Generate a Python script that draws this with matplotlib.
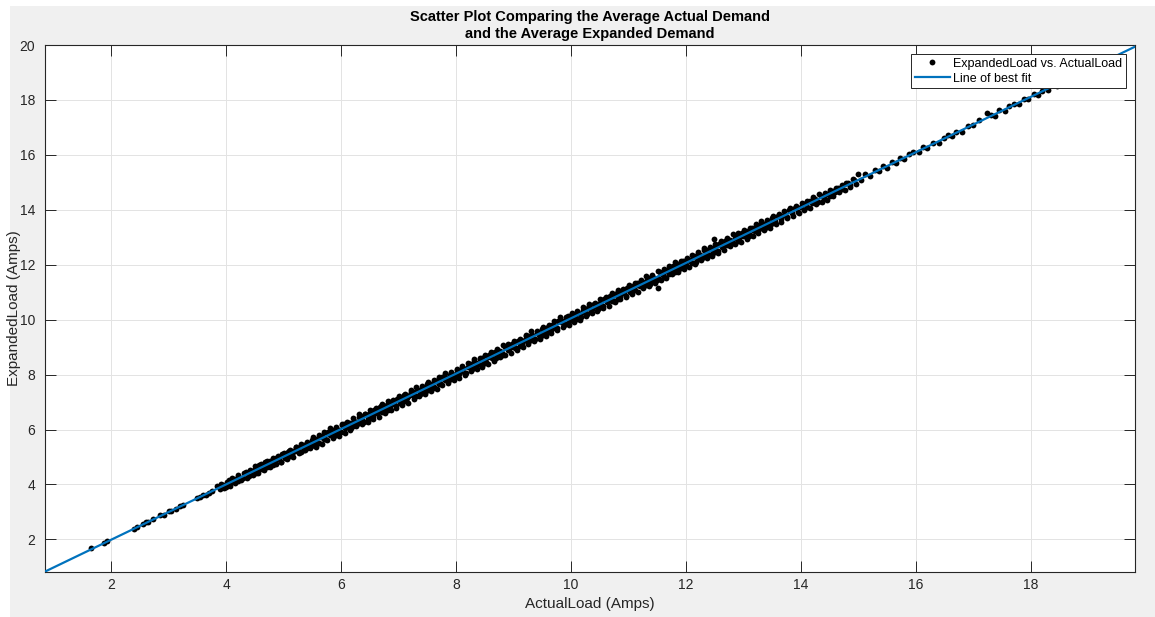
import matplotlib
matplotlib.use("Agg")
import matplotlib.pyplot as plt
from matplotlib.patches import Rectangle

plt.rcParams['font.family'] = ['Liberation Sans', 'DejaVu Sans']

# ---- data ----
low_x = [1.65, 1.88, 1.92, 2.40, 2.45, 2.55, 2.60, 2.65, 2.72, 2.85, 2.92, 3.00, 3.05,
         3.12, 3.20, 3.25, 3.50, 3.55, 3.60, 3.65, 3.70, 3.75]
low_y = [1.70, 1.88, 1.93, 2.38, 2.44, 2.55, 2.62, 2.64, 2.73, 2.88, 2.90, 3.02, 3.03,
         3.12, 3.22, 3.25, 3.52, 3.55, 3.62, 3.63, 3.70, 3.76]

dense_x = [
    3.85, 3.90, 3.95, 4.00, 4.05, 4.10, 4.15, 4.20, 4.25, 4.30,
    4.35, 4.40, 4.45, 4.50, 4.55, 4.60, 4.65, 4.70, 4.75, 4.80,
    4.85, 4.90, 4.95, 5.00, 5.05, 5.10, 5.15, 5.20, 5.25, 5.30,
    5.35, 5.40, 5.45, 5.50, 5.55, 5.60, 5.65, 5.70, 5.75, 5.80,
    5.85, 5.90, 5.95, 6.00, 6.05, 6.10, 6.15, 6.20, 6.25, 6.30,
    6.35, 6.40, 6.45, 6.50, 6.55, 6.60, 6.65, 6.70, 6.75, 6.80,
    6.85, 6.90, 6.95, 7.00, 7.05, 7.10, 7.15, 7.20, 7.25, 7.30,
    7.35, 7.40, 7.45, 7.50, 7.55, 7.60, 7.65, 7.70, 7.75, 7.80,
    7.85, 7.90, 7.95, 8.00, 8.05, 8.10, 8.15, 8.20, 8.25, 8.30,
    8.35, 8.40, 8.45, 8.50, 8.55, 8.60, 8.65, 8.70, 8.75, 8.80,
    8.85, 8.90, 8.95, 9.00, 9.05, 9.10, 9.15, 9.20, 9.25, 9.30,
    9.35, 9.40, 9.45, 9.50, 9.55, 9.60, 9.65, 9.70, 9.75, 9.80,
    9.85, 9.90, 9.95, 10.00, 10.05, 10.10, 10.15, 10.20, 10.25, 10.30,
    10.35, 10.40, 10.45, 10.50, 10.55, 10.60, 10.65, 10.70, 10.75, 10.80,
    10.85, 10.90, 10.95, 11.00, 11.05, 11.10, 11.15, 11.20, 11.25, 11.30,
    11.35, 11.40, 11.45, 11.50, 11.55, 11.60, 11.65, 11.70, 11.75, 11.80,
    11.85, 11.90, 11.95, 12.00, 12.05, 12.10, 12.15, 12.20, 12.25, 12.30,
    12.35, 12.40, 12.45, 12.50, 12.55, 12.60, 12.65, 12.70, 12.75, 12.80,
    12.85, 12.90, 12.95, 13.00, 13.05, 13.10, 13.15, 13.20, 13.25, 13.30,
    13.35, 13.40, 13.45, 13.50, 13.55, 13.60, 13.65, 13.70, 13.75, 13.80,
    13.85, 13.90, 13.95, 14.00, 14.05, 14.10, 14.15, 14.20, 14.25, 14.30,
    14.35, 14.40, 14.45, 14.50, 14.55, 14.60]
dense_y = [
    3.93, 3.84, 3.97, 3.90, 4.15, 4.08, 4.21, 4.11, 4.25, 4.25,
    4.44, 4.30, 4.49, 4.57, 4.48, 4.62, 4.62, 4.80, 4.67, 4.85,
    4.84, 4.97, 4.83, 5.04, 4.99, 5.22, 5.10, 5.21, 5.34, 5.19,
    5.42, 5.32, 5.49, 5.62, 5.53, 5.50, 5.74, 5.65, 5.88, 5.79,
    5.97, 5.84, 6.00, 5.90, 6.20, 6.10, 6.24, 6.11, 6.27, 6.26,
    6.48, 6.29, 6.52, 6.61, 6.48, 6.64, 6.63, 6.84, 6.67, 6.88,
    6.87, 7.01, 6.84, 7.07, 7.01, 7.26, 7.13, 7.24, 7.38, 7.21,
    7.44, 7.34, 7.51, 7.64, 7.55, 7.52, 7.76, 7.67, 7.90, 7.81,
    7.86, 8.00, 7.87, 8.03, 8.02, 8.24, 8.05, 8.28, 8.37, 8.24,
    8.41, 8.40, 8.61, 8.44, 8.65, 8.63, 8.77, 8.60, 8.83, 8.77,
    9.02, 8.89, 9.00, 9.14, 8.97, 9.20, 9.10, 9.27, 9.40, 9.31,
    9.29, 9.53, 9.44, 9.67, 9.58, 9.75, 9.62, 9.78, 9.68, 9.98,
    9.94, 9.85, 10.12, 10.00, 10.18, 10.02, 10.22, 10.36, 10.23, 10.41,
    10.31, 10.58, 10.47, 10.62, 10.48, 10.74, 10.69, 10.80, 10.69, 10.97,
    10.87, 11.06, 10.87, 11.09, 11.19, 11.08, 11.33, 11.24, 11.37, 11.26,
    11.52, 11.40, 11.52, 11.44, 11.74, 11.63, 11.78, 11.67, 11.85, 11.73,
    12.01, 11.96, 12.14, 11.99, 12.17, 12.06, 12.32, 12.23, 12.34, 12.30,
    12.55, 12.37, 12.55, 12.65, 12.49, 12.73, 12.67, 12.88, 12.80, 12.78,
    12.97, 12.87, 13.13, 13.05, 13.20, 13.06, 13.34, 13.22, 13.35, 13.47,
    13.34, 13.53, 13.41, 13.70, 13.61, 13.76, 13.66, 13.81, 13.73, 13.98,
    13.88, 14.07, 13.93, 14.10, 14.20, 14.10, 14.33, 14.25, 14.38, 14.29,
    14.51, 14.42, 14.56, 14.50, 14.69, 14.66]

dense2_x = [
    4.52, 4.57, 4.62, 4.67, 4.72, 4.77, 4.82, 4.87, 4.92, 4.97,
    5.02, 5.07, 5.12, 5.17, 5.22, 5.27, 5.32, 5.37, 5.42, 5.47,
    5.52, 5.57, 5.62, 5.67, 5.72, 5.77, 5.82, 5.87, 5.92, 5.97,
    6.02, 6.07, 6.12, 6.17, 6.22, 6.27, 6.32, 6.37, 6.42, 6.47,
    6.52, 6.57, 6.62, 6.67, 6.72, 6.77, 6.82, 6.87, 6.92, 6.97,
    7.02, 7.07, 7.12, 7.17, 7.22, 7.27, 7.32, 7.37, 7.42, 7.47,
    7.52, 7.57, 7.62, 7.67, 7.72, 7.77, 7.82, 7.87, 7.92, 7.97,
    8.02, 8.07, 8.12, 8.17, 8.22, 8.27, 8.32, 8.37, 8.42, 8.47,
    8.52, 8.57, 8.62, 8.67, 8.72, 8.77, 8.82, 8.87, 8.92, 8.97,
    9.02, 9.07, 9.12, 9.17, 9.22, 9.27, 9.32, 9.37, 9.42, 9.47,
    9.52, 9.57, 9.62, 9.67, 9.72, 9.77, 9.82, 9.87, 9.92, 9.97,
    10.02, 10.07, 10.12, 10.17, 10.22, 10.27, 10.32, 10.37, 10.42, 10.47,
    10.52, 10.57, 10.62, 10.67, 10.72, 10.77, 10.82, 10.87, 10.92, 10.97,
    11.02, 11.07, 11.12, 11.17, 11.22, 11.27, 11.32, 11.37, 11.42, 11.47,
    11.52, 11.57, 11.62, 11.67, 11.72, 11.77, 11.82, 11.87, 11.92, 11.97,
    12.02, 12.07, 12.12, 12.17, 12.22, 12.27, 12.32, 12.37, 12.42, 12.47,
    12.52, 12.57, 12.62, 12.67, 12.72, 12.77, 12.82, 12.87, 12.92, 12.97,
    13.02, 13.07, 13.12, 13.17, 13.22, 13.27, 13.32, 13.37, 13.42, 13.47]
dense2_y = [
    4.41, 4.69, 4.58, 4.81, 4.63, 4.84, 4.70, 4.97, 4.91, 5.10,
    4.95, 5.18, 5.02, 5.21, 5.36, 5.21, 5.41, 5.26, 5.48, 5.39,
    5.45, 5.64, 5.52, 5.77, 5.67, 5.92, 5.87, 5.78, 6.04, 5.91,
    6.16, 6.07, 6.23, 6.06, 6.30, 6.19, 6.47, 6.34, 6.55, 6.37,
    6.43, 6.71, 6.60, 6.83, 6.65, 6.86, 6.72, 6.99, 6.93, 7.12,
    6.97, 7.20, 7.04, 7.23, 7.38, 7.23, 7.43, 7.28, 7.50, 7.41,
    7.46, 7.65, 7.53, 7.78, 7.68, 7.93, 7.88, 7.79, 8.05, 7.92,
    8.17, 8.08, 8.24, 8.07, 8.31, 8.20, 8.48, 8.35, 8.56, 8.38,
    8.44, 8.72, 8.61, 8.84, 8.66, 8.87, 8.73, 9.00, 8.94, 9.13,
    8.98, 9.21, 9.05, 9.24, 9.39, 9.24, 9.44, 9.29, 9.51, 9.42,
    9.48, 9.67, 9.55, 9.80, 9.70, 9.95, 9.90, 9.81, 10.07, 9.94,
    10.19, 10.10, 10.26, 10.09, 10.33, 10.22, 10.50, 10.37, 10.58, 10.40,
    10.46, 10.74, 10.63, 10.86, 10.68, 10.89, 10.75, 11.02, 10.96, 11.15,
    11.00, 11.23, 11.07, 11.26, 11.41, 11.26, 11.46, 11.31, 11.53, 11.44,
    11.50, 11.69, 11.57, 11.82, 11.72, 11.97, 11.92, 11.83, 12.09, 11.96,
    12.21, 12.12, 12.28, 12.11, 12.35, 12.24, 12.52, 12.39, 12.60, 12.42,
    12.49, 12.75, 12.65, 12.87, 12.71, 12.90, 12.78, 13.03, 12.98, 13.16,
    13.03, 13.24, 13.10, 13.28, 13.42, 13.29, 13.47, 13.34, 13.55, 13.47]

# points at the upper and lower edges of the band
edge_x = [
    3.91, 3.96, 4.01, 4.06, 4.11, 4.16, 4.21, 4.26, 4.31, 4.36, 4.41, 4.46,
    4.51, 4.56, 4.61, 4.66, 4.71, 4.76, 4.81, 4.86, 4.91, 4.96,
    5.01, 5.06, 5.11, 5.16, 5.21, 5.26, 5.31, 5.36, 5.41, 5.46,
    5.51, 5.56, 5.61, 5.66, 5.71, 5.76, 5.81, 5.86, 5.91, 5.96,
    6.01, 6.06, 6.11, 6.16, 6.21, 6.26, 6.31, 6.36, 6.41, 6.46,
    6.51, 6.56, 6.61, 6.66, 6.71, 6.76, 6.81, 6.86, 6.91, 6.96,
    7.01, 7.06, 7.11, 7.16, 7.21, 7.26, 7.31, 7.36, 7.41, 7.46,
    7.51, 7.56, 7.61, 7.66, 7.71, 7.76, 7.81, 7.86, 7.91, 7.96,
    8.01, 8.06, 8.11, 8.16, 8.21, 8.26, 8.31, 8.36, 8.41, 8.46,
    8.51, 8.56, 8.61, 8.66, 8.71, 8.76, 8.81, 8.86, 8.91, 8.96,
    9.01, 9.06, 9.11, 9.16, 9.21, 9.26, 9.31, 9.36, 9.41, 9.46,
    9.51, 9.56, 9.61, 9.66, 9.71, 9.76, 9.81, 9.86, 9.91, 9.96,
    10.01, 10.06, 10.11, 10.16, 10.21, 10.26, 10.31, 10.36, 10.41, 10.46,
    10.51, 10.56, 10.61, 10.66, 10.71, 10.76, 10.81, 10.86, 10.91, 10.96,
    11.01, 11.06, 11.11, 11.16, 11.21, 11.26, 11.31, 11.36, 11.41, 11.46,
    11.51, 11.56, 11.61, 11.66, 11.71, 11.76, 11.81, 11.86, 11.91, 11.96,
    12.01, 12.06, 12.11, 12.16, 12.21, 12.26, 12.31, 12.36, 12.41, 12.46,
    12.51, 12.56, 12.61, 12.66, 12.71, 12.76, 12.81, 12.86, 12.91, 12.96,
    13.01, 13.06, 13.11, 13.16, 13.21, 13.26, 13.31, 13.36, 13.41, 13.46,
    13.51, 13.56, 13.61, 13.66, 13.71, 13.76, 13.81, 13.86, 13.91, 13.96,
    14.01, 14.06, 14.11, 14.16, 14.21, 14.26, 14.31, 14.36, 14.41, 14.46,
    14.51, 14.56, 14.61, 14.66, 14.71, 14.76, 14.81, 14.86, 14.91, 14.96]
edge_y = [
    4.01, 3.86, 4.10, 3.95, 4.22, 4.07, 4.33, 4.16, 4.42, 4.24, 4.53, 4.35,
    4.66, 4.42, 4.74, 4.51, 4.87, 4.65, 4.98, 4.74, 5.03, 4.82,
    5.16, 4.92, 5.24, 5.01, 5.37, 5.15, 5.48, 5.24, 5.53, 5.32,
    5.71, 5.38, 5.79, 5.47, 5.92, 5.61, 6.05, 5.70, 6.08, 5.78,
    6.21, 5.88, 6.29, 5.97, 6.42, 6.11, 6.55, 6.20, 6.58, 6.28,
    6.71, 6.38, 6.79, 6.47, 6.92, 6.61, 7.05, 6.70, 7.08, 6.78,
    7.22, 6.89, 7.30, 6.98, 7.43, 7.12, 7.56, 7.21, 7.59, 7.29,
    7.72, 7.39, 7.80, 7.48, 7.93, 7.62, 8.06, 7.71, 8.09, 7.79,
    8.22, 7.89, 8.30, 7.98, 8.43, 8.12, 8.56, 8.21, 8.59, 8.29,
    8.73, 8.40, 8.81, 8.49, 8.94, 8.63, 9.07, 8.72, 9.10, 8.80,
    9.23, 8.90, 9.31, 8.99, 9.44, 9.13, 9.57, 9.22, 9.60, 9.30,
    9.74, 9.41, 9.82, 9.50, 9.95, 9.64, 10.08, 9.73, 10.11, 9.81,
    10.24, 9.91, 10.32, 10.00, 10.45, 10.14, 10.58, 10.23, 10.61, 10.31,
    10.75, 10.42, 10.83, 10.51, 10.96, 10.65, 11.09, 10.74, 11.12, 10.82,
    11.25, 10.92, 11.33, 11.01, 11.46, 11.15, 11.59, 11.24, 11.62, 11.32,
    11.76, 11.43, 11.84, 11.52, 11.97, 11.66, 12.10, 11.75, 12.13, 11.83,
    12.26, 11.93, 12.34, 12.02, 12.47, 12.16, 12.60, 12.25, 12.63, 12.33,
    12.77, 12.44, 12.85, 12.53, 12.98, 12.67, 13.11, 12.76, 13.14, 12.84,
    13.27, 12.94, 13.35, 13.03, 13.48, 13.17, 13.61, 13.26, 13.64, 13.34,
    13.76, 13.48, 13.83, 13.56, 13.95, 13.71, 14.07, 13.79, 14.12, 13.87,
    14.26, 13.98, 14.33, 14.06, 14.45, 14.21, 14.57, 14.29, 14.62, 14.37,
    14.71, 14.52, 14.80, 14.63, 14.92, 14.71, 14.99, 14.84, 15.11, 14.93]

high_x = [14.65, 14.72, 14.78, 14.85, 14.92, 15.00, 15.05, 15.12, 15.20, 15.28,
          15.35, 15.42, 15.50, 15.58, 15.65, 15.72, 15.80, 15.88, 15.95, 16.05,
          16.12, 16.20, 16.30, 16.40, 16.48, 16.55, 16.62, 16.70, 16.80, 16.90,
          17.00, 17.10, 17.23, 17.30, 17.38, 17.45, 17.55, 17.62, 17.70, 17.80,
          17.88, 17.95, 18.05, 18.12, 18.20, 18.30, 18.40, 18.45, 18.50]
high_y = [14.80, 14.75, 14.96, 14.89, 15.10, 15.31, 15.08, 15.30, 15.22, 15.44,
          15.41, 15.60, 15.53, 15.73, 15.70, 15.89, 15.84, 16.03, 16.12, 16.10,
          16.29, 16.26, 16.45, 16.45, 16.63, 16.74, 16.67, 16.84, 16.83, 17.06,
          17.07, 17.26, 17.53, 17.44, 17.43, 17.63, 17.61, 17.77, 17.86, 17.85,
          18.03, 18.02, 18.21, 18.19, 18.34, 18.37, 18.55, 18.50, 18.66]

outlier_x = [12.49, 11.52]
outlier_y = [12.92, 11.15]

fit_slope = 1.008
fit_intercept = -0.03

x_limits = [0.85, 19.81]
y_limits = [0.83, 20.0]
x_ticks = [2, 4, 6, 8, 10, 12, 14, 16, 18]
y_ticks = [2, 4, 6, 8, 10, 12, 14, 16, 18, 20]

title_text = "Scatter Plot Comparing the Average Actual Demand\nand the Average Expanded Demand"
x_label = "ActualLoad (Amps)"
y_label = "ExpandedLoad (Amps)"
scatter_label = "ExpandedLoad vs. ActualLoad"
line_label = "Line of best fit"

# ---- figure ----
W, H = 1155, 617
fig = plt.figure(figsize=(W / 100, H / 100), dpi=100, facecolor='white')
fig.patches.append(Rectangle((10 / W, 0), 1 - 10 / W, 1 - 6 / H,
                             transform=fig.transFigure, facecolor='#f0f0f0',
                             edgecolor='none', zorder=-10))

ax = fig.add_axes([45 / W, (H - 571.5) / H, (1135 - 45) / W, (571.5 - 45) / H])
ax.set_facecolor('white')

all_x = low_x + dense_x + dense2_x + edge_x + high_x + outlier_x
all_y = low_y + dense_y + dense2_y + edge_y + high_y + outlier_y
ax.plot(all_x, all_y, linestyle='none', marker='o', markersize=4.2,
        color='black', markeredgewidth=0, label=scatter_label, zorder=3)

ax.plot(x_limits, [fit_slope * x_limits[0] + fit_intercept,
                   fit_slope * x_limits[1] + fit_intercept],
        color='#0072BD', linewidth=1.6, label=line_label, zorder=4)

ax.set_xlim(x_limits)
ax.set_ylim(y_limits)
ax.set_xticks(x_ticks)
ax.set_yticks(y_ticks)
ax.grid(True, color='#e3e3e3', linewidth=0.7)
ax.set_axisbelow(True)

tick_col = '#262626'
ax.tick_params(direction='in', length=8, width=0.7, colors=tick_col,
               labelsize=10, top=True, right=True)
ax.tick_params(axis='x', pad=5)
ax.tick_params(axis='y', pad=7)
for s in ax.spines.values():
    s.set_color(tick_col)
    s.set_linewidth(0.8)

ax.set_title(title_text, fontsize=10.5, fontweight='bold', color='black',
             pad=5, linespacing=1.25)
ax.set_xlabel(x_label, fontsize=11, color=tick_col, labelpad=3)
ax.set_ylabel(y_label, fontsize=11, color=tick_col)
ax.yaxis.set_label_coords((21 - 45) / (1135 - 45), 0.5)

leg = ax.legend(loc='upper right', fontsize=9, frameon=True, fancybox=False,
                framealpha=1, edgecolor=tick_col, borderaxespad=0.7,
                handlelength=2.8, handletextpad=0.3, markerscale=1.0,
                borderpad=0.3, labelspacing=0.25)
leg.get_frame().set_linewidth(0.7)

fig.savefig('out.png', dpi=100, facecolor=fig.get_facecolor())
